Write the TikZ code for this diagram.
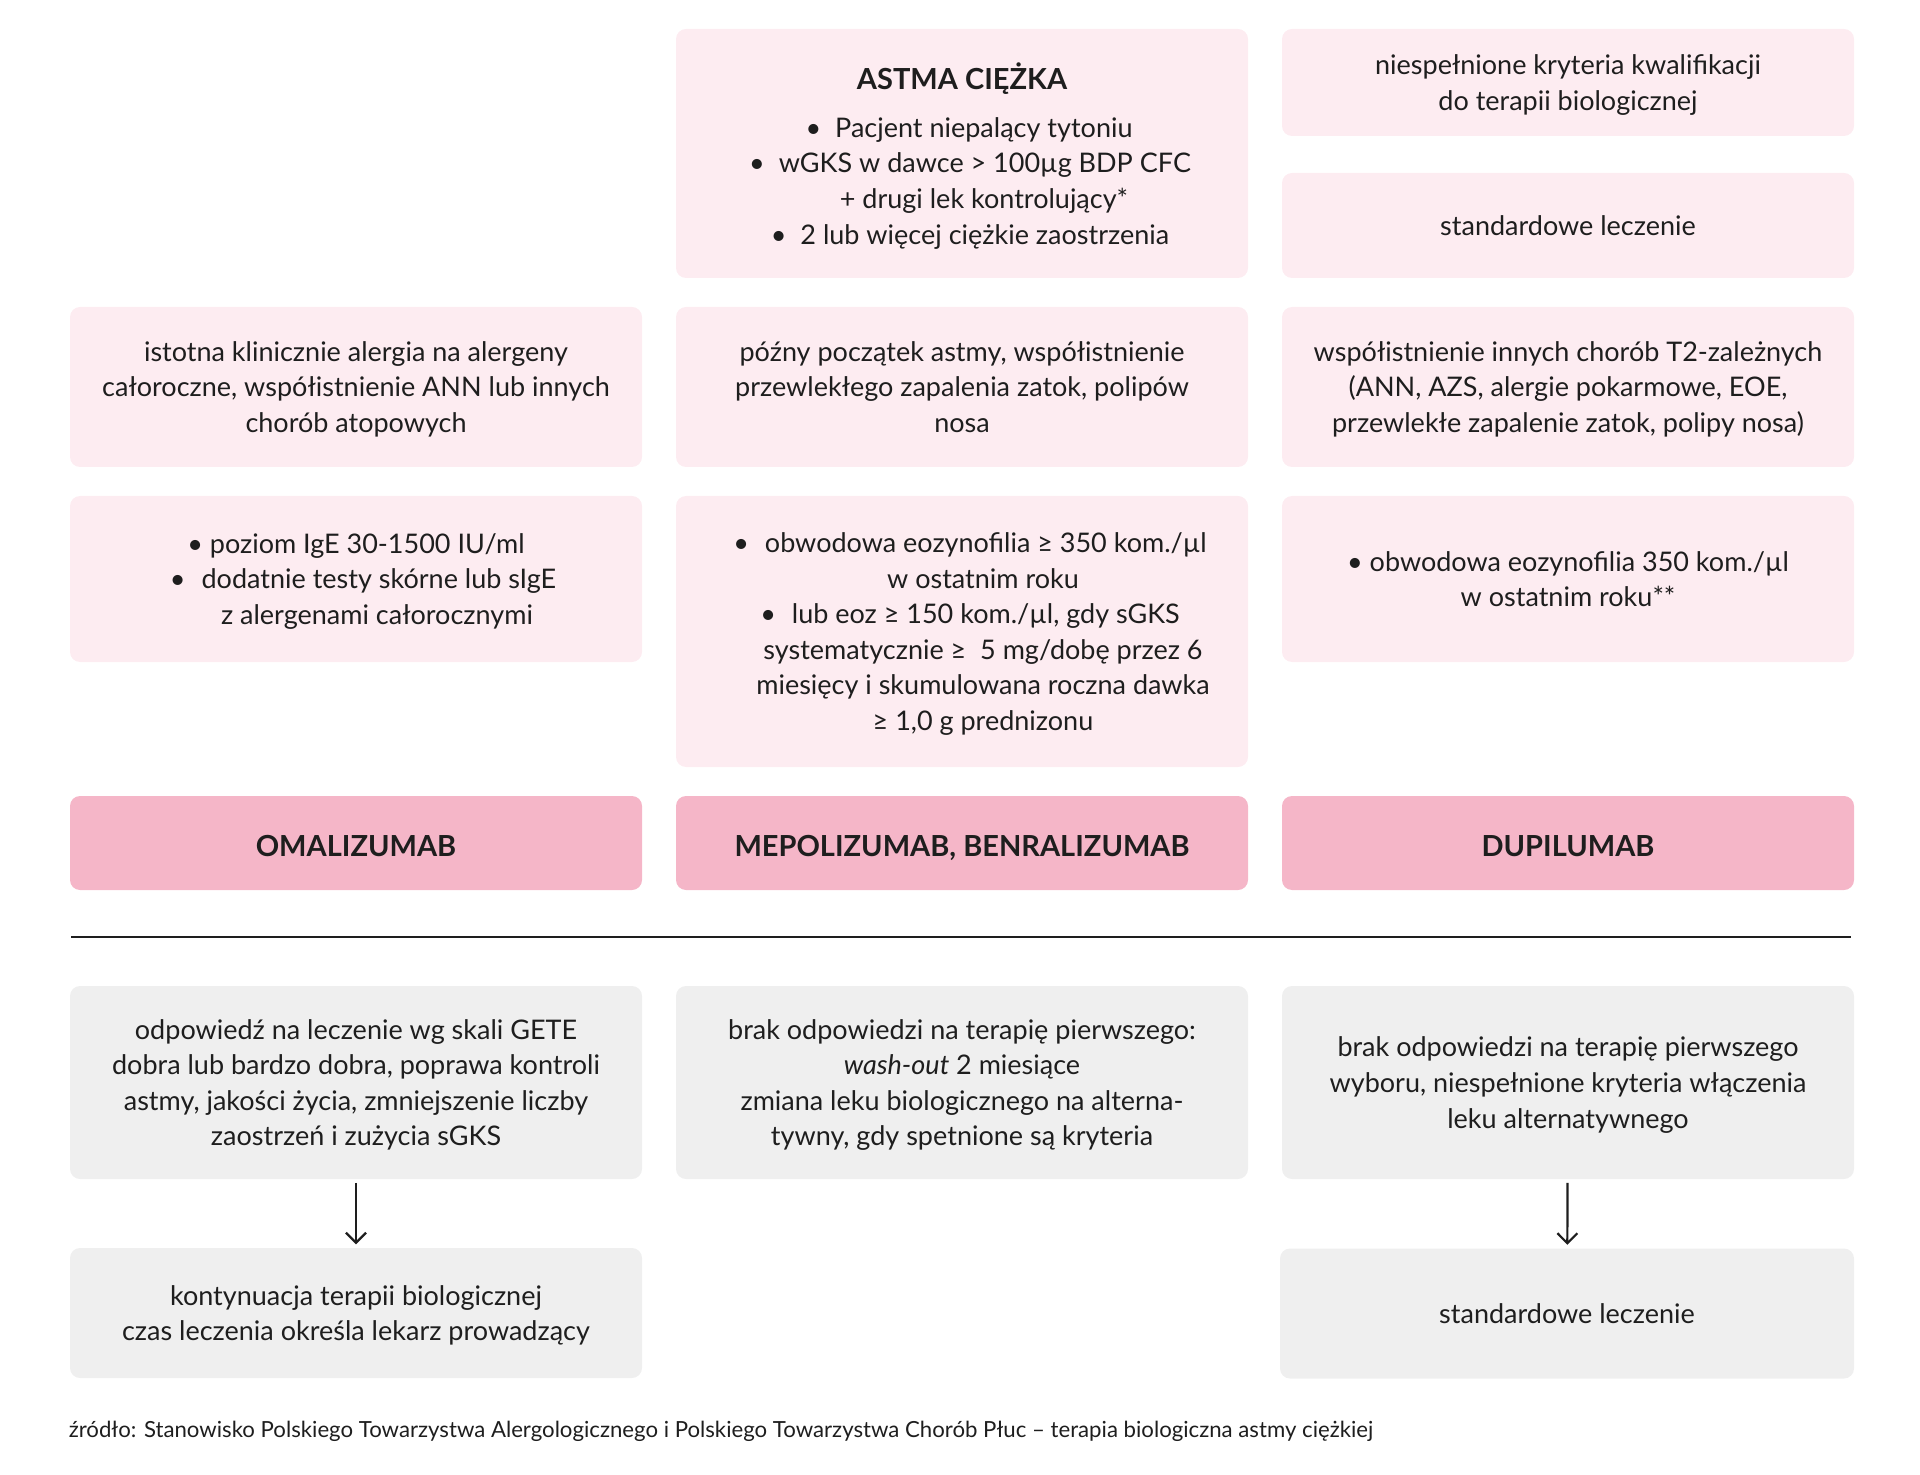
\documentclass[tikz,border=0pt]{standalone}
\usepackage{fontspec}
\setmainfont{Lato}
\usetikzlibrary{arrows.meta}

\definecolor{pinklight}{RGB}{253,236,241}
\definecolor{pinkdrug}{RGB}{245,182,200}
\definecolor{greybox}{RGB}{239,239,239}
\definecolor{txtdark}{RGB}{30,30,30}

\tikzset{every picture/.style={line width=0.75pt}}
\tikzset{
  box/.style={rounded corners=5pt, minimum width=286pt, inner sep=0pt, align=center,
    text=txtdark, font=\fontsize{13.5}{17.8}\selectfont, text depth=-3pt},
  critbox/.style={box, fill=pinklight},
  drugbox/.style={rounded corners=5pt, minimum width=286pt, inner sep=0pt, fill=pinkdrug,
    text=txtdark, font=\fontsize{14.5}{17}\selectfont\bfseries,
    text height=13pt, text depth=0pt},
  outbox/.style={box, fill=greybox},
  flowarrow/.style={-{Straight Barb[length=5pt,width=10pt]}, line width=1.1pt, draw=txtdark,
    shorten <=1.5pt, shorten >=1.5pt},
  sepline/.style={draw=txtdark, line width=0.6pt},
}

\begin{document}
\begin{tikzpicture}[x=0.5pt,y=0.5pt,yscale=-1,xscale=1]
\useasboundingbox (0,0) rectangle (1920,1475);

%Shape: Rectangle [criteria, top]
\node[critbox, minimum height=124.5pt] (astma) at (962,153.5)
  {{\fontsize{14.5}{17}\selectfont\bfseries ASTMA CIĘŻKA}\\[6pt]
   \hspace*{7pt}\textbullet\hspace{7pt}Pacjent niepalący tytoniu\\
   \hspace*{8pt}\textbullet\hspace{7pt}wGKS w dawce > 100µg BDP CFC\\
   \hspace*{22pt}+ drugi lek kontrolujący*\\
   \hspace*{8pt}\textbullet\hspace{7pt}2 lub więcej ciężkie zaostrzenia};
\node[critbox, minimum height=53.5pt] (brakkwal) at (1568,82.5)
  {niespełnione kryteria kwalifikacji\\do terapii biologicznej};
\node[critbox, minimum height=52.5pt] (stdtop) at (1568,225.5)
  {standardowe leczenie};

%Shape: Rectangle [criteria, second row]
\node[critbox, minimum height=80pt] (alergia) at (356,387)
  {istotna klinicznie alergia na alergeny\\całoroczne, współistnienie ANN lub innych\\chorób atopowych};
\node[critbox, minimum height=80pt] (pozny) at (962,387)
  {późny początek astmy, współistnienie\\przewlekłego zapalenia zatok, polipów\\nosa};
\node[critbox, minimum height=80pt] (wspol) at (1568,387)
  {współistnienie innych chorób T2-zależnych\\(ANN, AZS, alergie pokarmowe, EOE,\\przewlekłe zapalenie zatok, polipy nosa)};

%Shape: Rectangle [criteria, third row]
\node[critbox, minimum height=83pt] (ige) at (356,579)
  {\textbullet\ poziom IgE 30-1500 IU/ml\\
   \hspace*{7pt}\textbullet\hspace{8pt}dodatnie testy skórne lub sIgE\\
   \hspace*{21pt}z alergenami całorocznymi};
\node[critbox, minimum height=135.5pt] (eoz) at (962,631.5)
  {\hspace*{8pt}\textbullet\hspace{8pt}obwodowa eozynofilia ≥ 350 kom./µl\\
   \hspace*{21pt}w ostatnim roku\\
   \hspace*{8pt}\textbullet\hspace{8pt}lub eoz ≥ 150 kom./µl, gdy sGKS\\
   \hspace*{21pt}systematycznie ≥\ \ 5 mg/dobę przez 6\\
   \hspace*{21pt}miesięcy i skumulowana roczna dawka\\
   \hspace*{21pt}≥ 1,0 g prednizonu};
\node[critbox, minimum height=83pt] (eozdupi) at (1568,579)
  {\textbullet\ obwodowa eozynofilia 350 kom./µl\\
   w ostatnim roku**};

%Shape: Rectangle [drugs]
\node[drugbox, minimum height=47pt] (omal) at (356,843) {OMALIZUMAB};
\node[drugbox, minimum height=47pt] (mepo) at (962,843) {MEPOLIZUMAB, BENRALIZUMAB};
\node[drugbox, minimum height=47pt] (dupi) at (1568,843) {DUPILUMAB};

%Straight Lines [separator]
\coordinate (sepL) at (71,937);
\coordinate (sepR) at (1851,937);
\draw[sepline] (sepL) -- (sepR);

%Shape: Rectangle [outcomes]
\node[outbox, minimum height=96.5pt] (odp) at (356,1082.5)
  {odpowiedź na leczenie wg skali GETE\\dobra lub bardzo dobra, poprawa kontroli\\astmy, jakości życia, zmniejszenie liczby\\zaostrzeń i zużycia sGKS};
\node[outbox, minimum height=96.5pt] (brakpierw) at (962,1082.5)
  {brak odpowiedzi na terapię pierwszego:\\\textit{wash-out} 2 miesiące\\zmiana leku biologicznego na alterna-\\tywny, gdy spetnione są kryteria};
\node[outbox, minimum height=96.5pt] (brakalt) at (1568,1082.5)
  {brak odpowiedzi na terapię pierwszego\\wyboru, niespełnione kryteria włączenia\\leku alternatywnego};
\node[outbox, minimum height=65pt] (kont) at (356,1313)
  {kontynuacja terapii biologicznej\\czas leczenia określa lekarz prowadzący};
\node[outbox, minimum height=65pt, minimum width=287pt] (stdend) at (1567,1313.5)
  {standardowe leczenie};

%Straight Lines [arrows]
\draw[flowarrow] (odp) -- (kont);
\draw[flowarrow] (brakalt) -- (stdend);

% Text Node
\node[anchor=west, inner sep=0pt, text=txtdark, font=\fontsize{11.1}{12}\selectfont] (zrodlo) at (68,1431.5)
  {źródło: Stanowisko Polskiego Towarzystwa Alergologicznego i Polskiego Towarzystwa Chorób Płuc – terapia biologiczna astmy ciężkiej};

\end{tikzpicture}
\end{document}
